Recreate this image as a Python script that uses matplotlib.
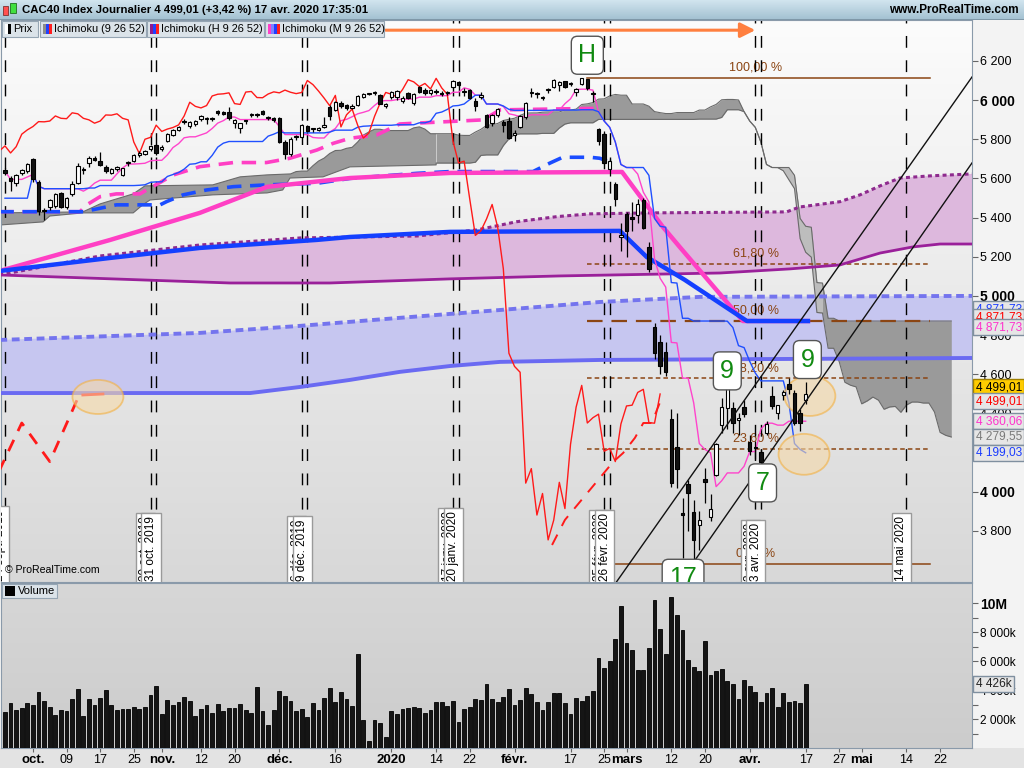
import numpy as np
import pandas as pd
import matplotlib
matplotlib.use("Agg")
import matplotlib.pyplot as plt
from matplotlib.colors import to_rgb
from matplotlib.patches import Ellipse, Rectangle

plt.rcParams['font.family'] = ['Liberation Sans', 'DejaVu Sans']

W, H = 1024, 768

# trading calendar (Euronext holidays removed)
holidays = pd.to_datetime(["2019-12-25", "2019-12-26", "2020-01-01",
                           "2020-04-10", "2020-04-13", "2020-05-01"])
days = pd.bdate_range("2019-09-02", "2020-06-30")
days = days[~days.isin(holidays)]
origin = days.get_loc(pd.Timestamp("2019-10-01"))


def day_no(s):
    return days.get_loc(pd.Timestamp(s)) - origin


# ---------------- daily CAC40 bars, 24 sept. 2019 -> 17 avr. 2020 ----------------
opens = [5645, 5601, 5577, 5628, 5636,
         5700, 5584, 5440, 5456, 5460, 5524, 5456, 5521, 5575, 5650,
         5678, 5705, 5690, 5660, 5630, 5647, 5618, 5678, 5691, 5720,
         5725, 5749, 5769, 5749, 5791, 5822, 5848, 5895, 5870, 5877,
         5902, 5905, 5908, 5943, 5941, 5941, 5885, 5856, 5895, 5922,
         5925, 5945, 5912, 5907, 5907, 5788, 5725, 5812, 5813, 5868,
         5850, 5848, 5865, 5967, 5950, 5987, 5975, 5962, 5975, 6015,
         6030, 6035, 6026, 5970, 6015, 6015, 5995, 6035, 5984, 6066,
         6052, 6035, 6045, 6038, 6035, 6066, 6094, 6042, 6052, 5997,
         6015, 5924, 5882, 5924, 5890, 5894, 5822, 5861, 5916, 6038,
         6032, 6012, 6050, 6068, 6075, 6096, 6080, 6043, 6082, 6108,
         6035, 5853, 5827, 5648, 5572, 5300, 5419, 5403, 5413, 5490,
         5250, 4841, 4766, 4715, 4370, 4230, 3890, 4040, 3897, 3830,
         4065, 3871, 4086, 4341, 4430, 4429, 4366, 4434, 4256, 4230,
         4203, 4298, 4489, 4401, 4495, 4550, 4506, 4404, 4469]
highs = [5655, 5610, 5625, 5650, 5680,
         5705, 5590, 5450, 5495, 5525, 5530, 5505, 5585, 5680, 5660,
         5712, 5712, 5737, 5670, 5655, 5665, 5655, 5690, 5725, 5740,
         5745, 5770, 5775, 5770, 5830, 5850, 5870, 5905, 5892, 5898,
         5925, 5915, 5915, 5950, 5945, 5967, 5905, 5885, 5900, 5935,
         5935, 5950, 5920, 5915, 5915, 5795, 5810, 5820, 5878, 5875,
         5860, 5865, 5915, 5975, 5995, 5995, 5980, 5978, 6025, 6035,
         6038, 6045, 6030, 5985, 6045, 6050, 6020, 6040, 6035, 6070,
         6060, 6055, 6055, 6045, 6045, 6105, 6100, 6060, 6058, 6010,
         6040, 5930, 5930, 5960, 5900, 5915, 5845, 5925, 5990, 6060,
         6040, 6020, 6060, 6108, 6100, 6100, 6090, 6060, 6111.4, 6110,
         6045, 5860, 5840, 5700, 5580, 5374, 5430, 5480, 5495, 5500,
         5275, 4860, 4800, 4766, 4420, 4403, 3968, 4060, 3960, 3900,
         4120, 3990, 4250, 4480, 4560, 4460, 4400, 4470, 4290, 4260,
         4220, 4360, 4540, 4445, 4520, 4580, 4520, 4420, 4560]
lows = [5620, 5535, 5560, 5615, 5630,
        5580, 5415, 5390, 5440, 5450, 5450, 5445, 5510, 5570, 5625,
        5660, 5690, 5665, 5630, 5625, 5640, 5610, 5665, 5685, 5710,
        5720, 5740, 5720, 5740, 5785, 5815, 5840, 5880, 5860, 5870,
        5895, 5880, 5895, 5925, 5925, 5900, 5860, 5834, 5880, 5915,
        5915, 5925, 5900, 5890, 5780, 5698, 5715, 5795, 5808, 5835,
        5835, 5840, 5855, 5900, 5945, 5960, 5950, 5955, 5970, 6010,
        6025, 6025, 5980, 5960, 6005, 6000, 5985, 6005, 5975, 6035,
        6025, 6025, 6030, 6020, 6025, 6060, 6070, 6020, 6005, 5945,
        6005, 5855, 5870, 5915, 5835, 5800, 5790, 5855, 5905, 6018,
        6010, 6000, 6035, 6060, 6045, 6060, 6070, 6020, 6075, 6050,
        5990, 5770, 5675, 5610, 5460, 5231, 5200, 5330, 5370, 5340,
        5120, 4680, 4600, 4590, 4025, 4020, 3660, 3800, 3632.06, 3700,
        3940, 3850, 4080, 4300, 4320, 4300, 4290, 4380, 4190, 4165,
        4140.12, 4290, 4420, 4370, 4470, 4500, 4340, 4310, 4450]
closes = [5630, 5585, 5618, 5642, 5672,
          5597, 5435, 5435, 5488, 5521, 5456, 5500, 5570, 5665, 5643,
          5702, 5696, 5670, 5636, 5648, 5657, 5652, 5681, 5722, 5730,
          5740, 5766, 5730, 5762, 5826, 5848, 5865, 5890, 5889, 5893,
          5919, 5907, 5905, 5935, 5930, 5907, 5899, 5882, 5893, 5924,
          5923, 5930, 5907, 5899, 5786, 5727, 5800, 5810, 5872, 5840,
          5852, 5860, 5873, 5919, 5989, 5968, 5960, 5972, 6021, 6030,
          6032, 6037, 5982, 5978, 6041, 6044, 6013, 6012, 6031, 6042,
          6037, 6051, 6040, 6033, 6039, 6100, 6079, 6046, 6010, 5971,
          6024, 5863, 5925, 5954, 5871, 5806, 5832, 5917, 5985, 6039,
          6030, 6016, 6054, 6104, 6093, 6069, 6085, 6057, 6111, 6062,
          6029, 5791, 5679, 5688, 5495, 5309, 5333, 5393, 5467, 5349,
          5139, 4707, 4640, 4610, 4044, 4118, 3881, 3991, 3754, 3855,
          4048, 3914, 4242, 4432, 4543, 4351, 4378, 4396, 4207, 4221,
          4154, 4346, 4438, 4442, 4507, 4523, 4353, 4350, 4499.01]
volumes_m = [2.48, 3.10, 2.60, 2.76, 3.10,
             2.97, 3.86, 3.24, 2.85, 2.28, 2.60, 2.55, 3.38, 4.07, 2.23,
             3.38, 2.97, 3.45, 4.00, 2.97, 2.60, 2.69, 2.69, 2.83, 2.69,
             2.83, 3.66, 4.28, 2.34, 3.31, 2.97, 3.17, 3.52, 3.24, 2.20,
             2.69, 2.97, 2.41, 3.03, 2.55, 2.76, 2.76, 3.03, 2.60, 2.41,
             4.20, 2.55, 1.59, 2.60, 3.93, 3.59, 3.24, 2.55, 2.69, 2.14,
             3.10, 2.60, 3.45, 4.14, 3.17, 3.86, 3.38, 2.90, 6.48, 1.93,
             0.48, 1.93, 1.72, 0.76, 2.55, 2.34, 2.69, 2.76, 2.83, 2.76,
             2.41, 2.62, 3.17, 3.17, 2.90, 3.24, 1.79, 2.69, 2.83, 3.38,
             3.31, 4.41, 3.38, 3.17, 3.52, 4.07, 2.97, 3.31, 4.14, 3.72,
             3.17, 2.62, 3.17, 3.79, 3.79, 3.10, 2.37, 3.47, 3.26, 3.60,
             3.95, 6.23, 5.54, 6.02, 7.54, 9.81, 7.26, 6.78, 5.40, 5.40,
             6.92, 10.23, 8.23, 6.50, 10.43, 9.19, 8.16, 6.09, 5.61, 5.33,
             7.40, 5.06, 5.33, 5.47, 4.64, 4.43, 3.40, 4.71, 4.30, 3.88,
             3.19, 3.81, 4.16, 2.85, 3.81, 3.19, 3.26, 3.12, 4.426]

# first kijun values (window not complete inside the visible range)
kijun_lead = [5499, 5499, 5499, 5499, 5499]

# daily cloud before enough bars exist to compute it
early_a_day = [-6, 8.9, 12.0, 17.9, 20.0, 32.1, 37.0, 41.8, 46]
early_a_val = [5424, 5429, 5470, 5521, 5562, 5567, 5608, 5618, 5623]
early_b_day = [-6, 1.8, 3.0, 8.9, 17.9, 19.6, 20.9, 32.1, 41.8, 44.6, 45.9, 51.8, 56.6, 72]
early_b_val = [5362, 5378, 5408, 5424, 5424, 5465, 5490, 5516, 5526, 5541, 5602, 5608, 5659, 5669]

# weekly ichimoku (H)
h_tenkan_day = [-6, 13.8, 29.8, 41.8, 56.6, 74.5, 105.2, 112.5, 115.5, 126.8, 138.4]
h_tenkan_val = [5127, 5286, 5424, 5557, 5602, 5628, 5633, 5352, 5250, 4871.73, 4871.73]
h_kijun_day = [-6, 13.8, 29.8, 50.7, 56.6, 74.5, 104.8, 109.6, 116.4, 127.5, 138.4]
h_kijun_val = [5127, 5194, 5245, 5286, 5301, 5327, 5332, 5199, 5082, 4871.73, 4871.73]
h_top_day = [-6, 12.0, 29.8, 47.7, 68.6, 79.3, 86.4, 93.6, 99.5, 110.2, 134.6, 136.9,
             144.1, 147.7, 151.3, 154.8, 160.2, 167.7]
h_top_val = [5107, 5204, 5260, 5296, 5306, 5337, 5379, 5405, 5419, 5424, 5429, 5454,
             5481, 5516, 5562, 5602, 5613, 5623]
h_bot_day = [-6, 35.2, 53.0, 74.5, 94.1, 122.7, 135.2, 144.1, 151.3, 157.1, 162.0, 167.7]
h_bot_val = [5107, 5066, 5066, 5087, 5102, 5117, 5138, 5158, 5219, 5250, 5265, 5265]
h_chikou_day = [-7, -2, 3, 8]
h_chikou_val = [4048, 4351, 4154, 4477]
h_chikou_last_day = [8.9, 12.5]
h_chikou_last_val = [4494, 4499]

# monthly ichimoku (M)
m_tenkan_day = [-6, 8.4, 9.6, 12.0, 14.9, 19.1, 20.3, 25.1, 29.8, 35.8, 41.7, 45.9, 50.7,
                53.6, 56.6, 61.4, 65.5, 80.4, 83.4, 100.7]
m_tenkan_val = [5430, 5430, 5465, 5507, 5521, 5521, 5541, 5618, 5660, 5681, 5681, 5703, 5745,
                5779, 5805, 5822, 5878, 5899, 5950, 5958]
m_kijun_day = [-6, 9.0, 14.9, 22.7, 23.9, 26.8, 31.0, 35.8, 41.7, 50.7, 56.6, 68.6, 74.5,
               89.3, 92.3, 94.6, 99.5, 101.2, 103.5]
m_kijun_val = [5430, 5430, 5465, 5465, 5482, 5516, 5541, 5558, 5567, 5575, 5600, 5626, 5635,
               5635, 5678, 5708, 5708, 5703, 5680]
m_top_day = [-6, 29.8, 47.7, 65.5, 83.4, 101.3, 119.1, 167.7]
m_top_val = [4775, 4811, 4847, 4888, 4928, 4969, 4995, 5000]
m_bot_day = [-6, 38.8, 47.7, 56.6, 65.5, 74.5, 83.4, 101.3, 167.7]
m_bot_val = [4504, 4504, 4535, 4571, 4612, 4642, 4663, 4673, 4683]
m_chikou_day = [92.7, 95.0, 103.6, 105.4, 107.5, 109.0, 110.5, 112.5]
m_chikou_val = [3728, 3856, 4152, 4198, 4275, 4351, 4351, 4494]

# drawings
fib_levels = [1.0, 0.618, 0.5, 0.382, 0.236, 0.0]
fib_labels = ["100,00 %", "61,80 %", "50,00 %", "38,20 %", "23,60 %", "0,00 %"]
chan_a_day, chan_a_val = [104.0, 167.7], [3531, 6118]
chan_b_day, chan_b_val = [116.0, 167.7], [3559, 5679]
count_labels = ["H", "9", "9", "7", "17"]
count_day = [99, 124, 138.3, 130.3, 116.1]
count_val = [6229, 4617, 4675, 4045, 3558]
ell_day = [11.6, 138.75, 137.7]
ell_val = [4484, 4489, 4191]
ell_height = [174, 204, 209]
cycle_pairs = ["2019-10-31", "2019-12-09", "2020-01-20", "2020-02-26", "2020-04-03"]
cycle_single = ["2019-09-24", "2020-05-14"]

tick_dates = ["2019-10-01", "2019-10-09", "2019-10-17", "2019-10-25", "2019-11-01",
              "2019-11-12", "2019-11-20", "2019-12-02", "2019-12-16", "2020-01-02",
              "2020-01-14", "2020-01-22", "2020-02-03", "2020-02-17", "2020-02-25",
              "2020-03-02", "2020-03-12", "2020-03-20", "2020-04-01", "2020-04-17",
              "2020-04-27", "2020-05-04", "2020-05-14", "2020-05-22"]
tick_labels = ["oct.", "09", "17", "25", "nov.", "12", "20", "déc.", "16", "2020",
               "14", "22", "févr.", "17", "25", "mars", "12", "20", "avr.", "17",
               "27", "mai", "14", "22"]
fr_months = ["janv.", "févr.", "mars", "avr.", "mai", "juin", "juil.", "août",
             "sept.", "oct.", "nov.", "déc."]
price_ticks = [3800, 4000, 4400, 4600, 4800, 5000, 5200, 5400, 5600, 5800, 6000, 6200]

# ---------------- indicators ----------------
bars = np.arange(day_no("2019-09-24"), day_no("2020-04-17") + 1)
o, h, l, c = map(np.array, (opens, highs, lows, closes))
hs, ls = pd.Series(h), pd.Series(l)


def midline(n, mp):
    return ((hs.rolling(n, min_periods=mp).max() + ls.rolling(n, min_periods=mp).min()) / 2).to_numpy()


tenkan = midline(9, 1)
kijun = midline(26, 1)
kijun[:len(kijun_lead)] = kijun_lead
span_a = (midline(9, 9) + midline(26, 26)) / 2
span_b = midline(52, 52)
fwd = bars + 26

fib_hi, fib_lo = max(highs), min(lows)
fib_vals = [fib_lo + f * (fib_hi - fib_lo) for f in fib_levels]


def fr_num(v):
    return f"{round(v + 1e-9, 2):,.2f}".replace(",", " ").replace(".", ",")


# ---------------- figure ----------------
fig = plt.figure(figsize=(10.24, 7.68), dpi=100, facecolor='#f3f3f3')


def rect(x0, y0, x1, y1):
    return [x0 / W, 1 - y1 / H, (x1 - x0) / W, (y1 - y0) / H]


def gradient_axes(r, top, bottom):
    a = fig.add_axes(r, zorder=0)
    c1, c2 = np.array(to_rgb(top)), np.array(to_rgb(bottom))
    g = np.linspace(0, 1, 200)[:, None, None]
    a.imshow(c1 + (c2 - c1) * g, aspect='auto', extent=[0, 1, 0, 1])
    a.set_axis_off()
    return a


def fbox(x0, y0, x1, y1, **kw):
    fig.add_artist(Rectangle((x0 / W, 1 - y1 / H), (x1 - x0) / W, (y1 - y0) / H,
                             transform=fig.transFigure, **kw))


def ftext(x, y, s, **kw):
    fig.text(x / W, 1 - y / H, s, **kw)


# title bar
gradient_axes(rect(0, 0, 1024, 19), '#d2e5ef', '#a4c2d2')
fbox(0, 19, 1024, 20, facecolor='#7f98a8', lw=0, zorder=5)
fbox(3, 6, 8, 15, facecolor='#ff5050', edgecolor='#803030', lw=0.6, zorder=6)
fbox(10, 3, 16, 13, facecolor='#40e040', edgecolor='#207020', lw=0.6, zorder=6)
ftext(22, 10, "CAC40 Index Journalier 4 499,01 (+3,42 %) 17 avr. 2020 17:35:01",
      fontsize=8.2, fontweight='bold', va='center', ha='left', zorder=6)
ftext(1019, 10, "www.ProRealTime.com", fontsize=8.5, fontweight='bold',
      va='center', ha='right', zorder=6)

fbox(0, 748, 1024, 768, facecolor='#e3e3e3', lw=0, zorder=0.5)

# ---------------- price panel ----------------
gradient_axes(rect(1, 20, 972, 582), '#fcfcfc', '#d8d8d8')
ax = fig.add_axes(rect(1, 20, 972, 582), zorder=1)
ax.set_facecolor('none')
XL = (-5.71, 167.7)
ax.set_xlim(*XL)
ax.set_ylim(3539, 6409)

# monthly cloud
ax.fill(np.r_[m_top_day, m_bot_day[::-1]], np.r_[m_top_val, m_bot_val[::-1]],
        color='#c6c6f0', lw=0, zorder=1)
ax.plot(m_top_day, m_top_val, color='#7474ee', lw=2.8, dashes=(2.0, 1.2), zorder=3)
ax.plot(m_bot_day, m_bot_val, color='#6a6af2', lw=2.8, zorder=3)

# weekly cloud
ax.fill(np.r_[h_top_day, h_bot_day[::-1]], np.r_[h_top_val, h_bot_val[::-1]],
        color='#ddb8dd', lw=0, zorder=1)
ax.plot(h_top_day, h_top_val, color='#8e2a8e', lw=2.2, dashes=(1.3, 1.1), zorder=3)
ax.plot(h_bot_day, h_bot_val, color='#9a209a', lw=2.0, zorder=3)

# daily cloud
m = (fwd > early_a_day[-1]) & (fwd <= 72)
top_x = np.r_[early_a_day, fwd[m]]
top_y = np.r_[early_a_val, span_a[m]]
ax.fill(np.r_[top_x, early_b_day[::-1]], np.r_[top_y, early_b_val[::-1]],
        color='#9a9a9a', lw=0, zorder=1.2)
k = fwd >= 72
ax.fill_between(fwd[k], span_a[k], span_b[k], color='#9a9a9a', lw=0, zorder=1.2)
tw = (fwd >= 130) & (fwd <= 141)
ax.fill_between(fwd[tw], span_a[tw], span_b[tw], color='#bdbdbd', lw=0, zorder=1.3)
ax.plot(np.r_[top_x, fwd[k]], np.r_[top_y, span_a[k]], color='#6a6a6a', lw=0.8, zorder=1.4)
ax.plot(np.r_[early_b_day, fwd[k]], np.r_[early_b_val, span_b[k]], color='#6a6a6a', lw=0.8, zorder=1.4)

# fibonacci
fib_x0, fib_x1 = 99, 160.2
fib_styles = [dict(), dict(dashes=(3, 2)), dict(dashes=(7, 4), lw=1.6), dict(dashes=(3, 2)),
              dict(dashes=(3, 2)), dict()]
for v, lab, st in zip(fib_vals, fib_labels, fib_styles):
    x0 = fib_x0 if v > fib_lo else 103
    kw = dict(color='#8b4513', lw=1.1)
    kw.update(st)
    ax.plot([x0, fib_x1], [v, v], zorder=2, **kw)
    ax.text((fib_x0 + fib_x1) / 2 - 0.5, v + 22, lab, color='#8b4513', fontsize=9,
            ha='center', va='bottom', zorder=2)

# cycle lines
for d in cycle_pairs:
    n = day_no(d)
    for xx in (n - 1, n):
        ax.axvline(xx, color='black', lw=1, dashes=(8.5, 9), zorder=2.5)
for d in cycle_single:
    ax.axvline(day_no(d), color='black', lw=1, dashes=(8.5, 9), zorder=2.5)

# ichimoku lines
ax.plot(m_tenkan_day, m_tenkan_val, color='#ff3fc4', lw=2.6, dashes=(4, 2.4), zorder=3)
ax.plot(m_kijun_day, m_kijun_val, color='#1a4cff', lw=2.6, dashes=(4, 2.4), zorder=3)
ax.plot(h_tenkan_day, h_tenkan_val, color='#ff3fc4', lw=3.2, zorder=3.1)
ax.plot(h_kijun_day, h_kijun_val, color='#1440ff', lw=3.2, zorder=3.2)
ax.plot(bars, tenkan, color='#ff44cc', lw=1.0, zorder=3.3)
ax.plot(bars, kijun, color='#1f4fff', lw=1.0, zorder=3.3)
ax.plot(bars - 26, c, color='#ff1a1a', lw=1.0, zorder=3.4)
ax.plot(h_chikou_day, h_chikou_val, color='#ff1a1a', lw=2.0, dashes=(4.5, 3.5), zorder=3.4)
ax.plot(h_chikou_last_day, h_chikou_last_val, color='#ff1a1a', lw=2.0, zorder=3.4)
ax.plot(m_chikou_day, m_chikou_val, color='#ff1a1a', lw=1.4, dashes=(6, 5), zorder=3.4)

# ellipses
for d, v, hh in zip(ell_day, ell_val, ell_height):
    ax.add_patch(Ellipse((d, v), 9.1, hh, facecolor='#f6d9a8', edgecolor='#f3b040',
                         alpha=0.6, lw=1.3, zorder=4.5))

# candles
up = c >= o
ax.vlines(bars, l, h, color='black', lw=0.9, zorder=4.9)
ax.bar(bars, np.maximum(np.abs(c - o), 5), width=0.62, bottom=np.minimum(o, c),
       color=np.where(up, 'white', '#111111'), edgecolor='black', lw=0.8, zorder=5)

# channel
ax.plot(chan_a_day, chan_a_val, color='#111111', lw=1.0, zorder=5.5)
ax.plot(chan_b_day, chan_b_val, color='#111111', lw=1.0, zorder=5.5)

# orange arrow
ax.annotate('', xy=(day_no("2020-04-02"), 6357), xytext=(day_no("2019-12-31"), 6357),
            arrowprops=dict(arrowstyle='-|>,head_length=0.9,head_width=0.45',
                            color='#ff7f3f', lw=2.2, shrinkA=0, shrinkB=0),
            annotation_clip=False, zorder=6)

# count labels
for lab, d, v in zip(count_labels, count_day, count_val):
    ax.text(d, v, lab, color='#118a11', fontsize=18, ha='center', va='center', zorder=8,
            clip_on=True,
            bbox=dict(boxstyle='round,pad=0.28,rounding_size=0.25', fc='white',
                      ec='#555555', lw=1))


# cycle date boxes
def fr_date(d):
    t = pd.Timestamp(d)
    return f"{t.day} {fr_months[t.month - 1]} {t.year}"


for d in cycle_pairs:
    n = day_no(d)
    for xx, z in ((n - 1, 8.5), (n, 9)):
        ax.text(xx + 0.15, 3543, fr_date(days[origin + xx]), rotation=90, ha='right',
                va='bottom', fontsize=8.5, zorder=z, clip_on=True,
                bbox=dict(boxstyle='square,pad=0.3', fc='white', ec='#9a9a9a', lw=1))
for d in cycle_single:
    n = day_no(d)
    ax.text(n + 0.15, 3543, fr_date(d), rotation=90, ha='right', va='bottom', fontsize=8.5,
            zorder=9, clip_on=True,
            bbox=dict(boxstyle='square,pad=0.3', fc='white', ec='#9a9a9a', lw=1))

ax.text(0.004, 0.012, "© ProRealTime.com", transform=ax.transAxes, fontsize=7.6,
        ha='left', va='bottom', zorder=9)

# price axis
ax.yaxis.tick_right()
ax.set_yticks(price_ticks)
ax.set_yticklabels([f"{v:,}".replace(",", " ") for v in price_ticks])
ax.tick_params(axis='y', length=4, width=0.8, color='#666666', pad=2, labelsize=9)
for lbl, v in zip(ax.get_yticklabels(), price_ticks):
    if v % 1000 == 0:
        lbl.set_fontweight('bold')
        lbl.set_fontsize(10)
ax.set_xticks([])
for s in ax.spines.values():
    s.set_color('#8a9aaa')

# value boxes on the right axis
box = dict(boxstyle='square,pad=0.18', fc='#e6e6e6', ec='#7f8f9f', lw=1)
last = len(bars) - 1
right_labels = [
    (fib_vals[2], '#1a3cff', 12, box),
    (fib_vals[2], '#ff0000', 4, box),
    (fib_vals[2], '#ff33cc', -6, box),
    (c[last], 'black', 7, dict(boxstyle='square,pad=0.18', fc='#ffcc00', ec='#a08000', lw=1)),
    (c[last], '#ff0000', -7, box),
    (tenkan[last], '#ff33cc', 0, box),
    ((tenkan[last] + kijun[last]) / 2, '#7a7a7a', 0, box),
    (kijun[last], '#1a3cff', 0, box),
]
for v, col, dy, bb in right_labels:
    ax.annotate(fr_num(v), xy=(1, v), xycoords=('axes fraction', 'data'),
                xytext=(2.6, dy * 0.72), textcoords='offset points', ha='left', va='center',
                fontsize=8.6, color=col, bbox=bb, annotation_clip=False, zorder=10)

# ---------------- volume panel ----------------
gradient_axes(rect(1, 583, 972, 748), '#d7d7d7', '#cccccc')
axv = fig.add_axes(rect(1, 583, 972, 748), zorder=1)
axv.set_facecolor('none')
axv.set_xlim(*XL)
axv.set_ylim(0, 11.4)
axv.bar(bars, volumes_m, width=0.68, color='#151515', edgecolor='black', lw=0.6, zorder=3)
axv.yaxis.tick_right()
axv.set_yticks(range(1, 11))
axv.set_yticklabels(["", "2 000k", "", "4 000k", "", "6 000k", "", "8 000k", "", "10M"])
axv.tick_params(axis='y', length=4, width=0.8, color='#666666', pad=2, labelsize=8.6)
axv.get_yticklabels()[-1].set_fontweight('bold')
axv.get_yticklabels()[-1].set_fontsize(10)
axv.annotate(f"{volumes_m[-1] * 1000:,.0f}k".replace(",", " "), xy=(1, volumes_m[-1]),
             xycoords=('axes fraction', 'data'), xytext=(2.6, 0), textcoords='offset points',
             ha='left', va='center', fontsize=8.6, color='#222222',
             bbox=dict(boxstyle='square,pad=0.18', fc='#e6e6e6', ec='#7f8f9f', lw=1),
             annotation_clip=False, zorder=10)
axv.set_xticks([day_no(d) for d in tick_dates])
axv.set_xticklabels(tick_labels)
axv.tick_params(axis='x', length=3, width=0.8, color='#666666', pad=1.5, labelsize=9)
for lbl in axv.get_xticklabels():
    if not lbl.get_text().isdigit() or lbl.get_text() == "2020":
        lbl.set_fontweight('bold')
        lbl.set_fontsize(9.5)
for s in axv.spines.values():
    s.set_color('#8a9aaa')

# legend boxes
leg = [(2, 38, "Prix", ['white', 'black']),
       (40, 146, "Ichimoku (9 26 52)", ['#8c8c8c', '#2040ff', '#ff2020']),
       (147, 264, "Ichimoku (H 9 26 52)", ['#8e1a8e', '#2040ff', '#ff2020']),
       (265, 384, "Ichimoku (M 9 26 52)", ['#ff40c8', '#8080ff', '#2040ff', '#ff2020'])]
for x0, x1, txt, cols in leg:
    fbox(x0, 21, x1, 37, facecolor='#dbe3e9', edgecolor='#95a5b3', lw=0.8, zorder=20)
    for i, col in enumerate(cols):
        fbox(x0 + 3 + 3 * i, 24, x0 + 6 + 3 * i, 34, facecolor=col, lw=0, zorder=21)
    ftext(x0 + 5 + 3 * len(cols), 29.5, txt, fontsize=7.9, va='center', ha='left', zorder=21)
fbox(2, 584, 57, 598, facecolor='#dbe3e9', edgecolor='#95a5b3', lw=0.8, zorder=20)
fbox(5, 586, 15, 596, facecolor='black', lw=0, zorder=21)
ftext(18, 591, "Volume", fontsize=8, va='center', ha='left', zorder=21)

fig.savefig("out.png", dpi=100, facecolor=fig.get_facecolor())
